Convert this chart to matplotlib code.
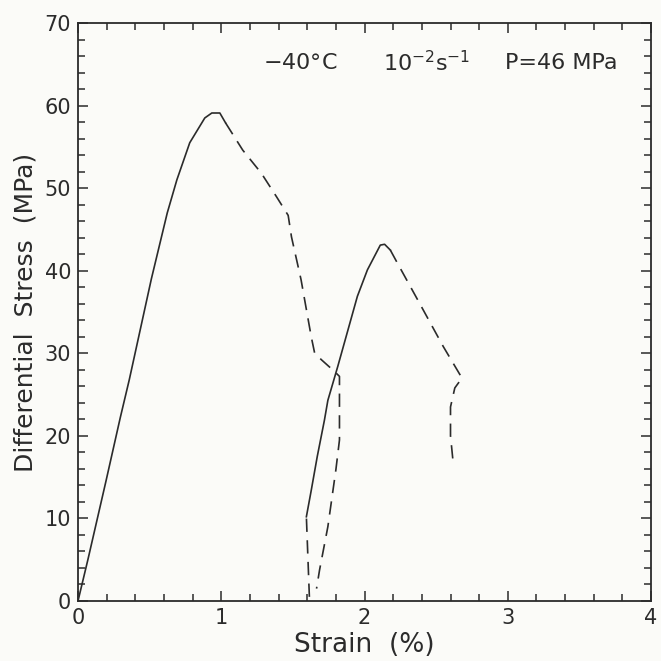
import matplotlib
matplotlib.use("Agg")
import matplotlib.pyplot as plt
from matplotlib.ticker import MultipleLocator

# first loading (solid) and its post-peak part (dashed)
load1_x = [0.0, 0.069, 0.195, 0.295, 0.358, 0.512, 0.623, 0.69, 0.78, 0.885, 0.934, 0.99, 1.03]
load1_y = [0.0, 5.0, 14.5, 22.2, 26.8, 39.0, 47.0, 51.0, 55.5, 58.5, 59.1, 59.1, 57.9]
drop1_x = [1.03, 1.15, 1.28, 1.384, 1.467, 1.49, 1.557, 1.628, 1.652, 1.70, 1.79, 1.825, 1.825, 1.80, 1.744, 1.686, 1.665]
drop1_y = [57.9, 54.6, 51.8, 49.0, 46.7, 44.1, 38.9, 32.0, 30.0, 29.2, 27.8, 27.2, 19.5, 15.9, 9.0, 3.75, 1.5]

# reload segment (dashed) then second loading (solid)
reload_x = [1.615, 1.594]
reload_y = [0.5, 10.2]
load2_x = [1.594, 1.628, 1.67, 1.72, 1.744, 1.813, 1.95, 2.02, 2.11, 2.14, 2.18]
load2_y = [10.2, 13.4, 17.5, 21.9, 24.3, 28.4, 36.9, 40.1, 43.1, 43.2, 42.5]
drop2_x = [2.18, 2.23, 2.37, 2.55, 2.68, 2.63, 2.60, 2.60, 2.62]
drop2_y = [42.5, 40.9, 36.5, 30.8, 27.0, 25.8, 23.5, 20.0, 16.5]

ink = "#2b2b2b"
dash = (0, (8, 5))

fig = plt.figure(figsize=(6.61, 6.61), dpi=100, facecolor="#fbfbf8")
ax = fig.add_axes([0.118, 0.0908, 0.867, 0.8744])
ax.set_facecolor("#fbfbf8")

ax.plot(load1_x, load1_y, color=ink, lw=1.2)
ax.plot(drop1_x, drop1_y, color=ink, lw=1.2, linestyle=dash)
ax.plot(reload_x, reload_y, color=ink, lw=1.2, linestyle=dash)
ax.plot(load2_x, load2_y, color=ink, lw=1.2)
ax.plot(drop2_x, drop2_y, color=ink, lw=1.2, linestyle=dash)

ax.set_xlim(0, 4)
ax.set_ylim(0, 70)
ax.xaxis.set_major_locator(MultipleLocator(1))
ax.xaxis.set_minor_locator(MultipleLocator(0.2))
ax.yaxis.set_major_locator(MultipleLocator(10))
ax.yaxis.set_minor_locator(MultipleLocator(2))
ax.tick_params(which="both", direction="in", top=True, right=True,
               color=ink, labelcolor=ink, labelsize=15, width=1.1)
ax.tick_params(which="major", length=7.5, pad=5)
ax.tick_params(which="minor", length=4.8)
for s in ax.spines.values():
    s.set_color(ink)
    s.set_linewidth(1.3)

ax.set_xlabel("Strain  (%)", fontsize=19, color=ink, labelpad=3)
ax.set_ylabel("Differential  Stress  (MPa)", fontsize=18, color=ink, labelpad=5)

ax.text(1.29, 65.2, "$-$40°C", fontsize=16, color=ink, va="center")
ax.text(2.13, 65.2, r"10$^{-2}$s$^{-1}$", fontsize=16, color=ink, va="center")
ax.text(2.98, 65.2, "P=46 MPa", fontsize=16, color=ink, va="center")

fig.savefig("out.png", dpi=100, facecolor=fig.get_facecolor())
